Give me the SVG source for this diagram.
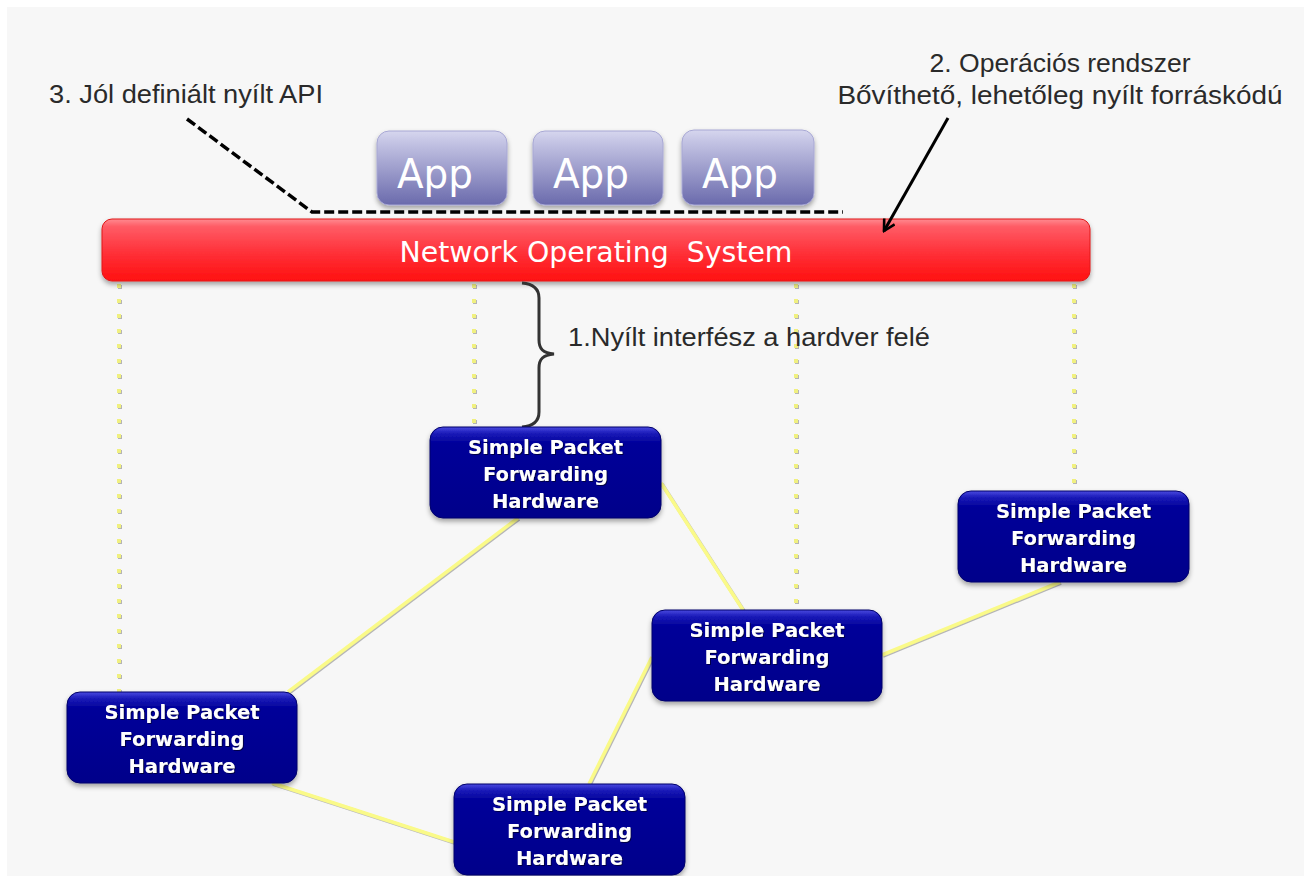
<svg xmlns="http://www.w3.org/2000/svg" width="1304" height="876" viewBox="0 0 1304 876">
  <defs>
    <linearGradient id="gNos" x1="0" y1="0" x2="0" y2="1">
      <stop offset="0" stop-color="#ff8a90"/>
      <stop offset="0.12" stop-color="#ff5c66"/>
      <stop offset="0.55" stop-color="#ff3038"/>
      <stop offset="1" stop-color="#ff1010"/>
    </linearGradient>
    <linearGradient id="gApp" x1="0" y1="0" x2="0" y2="1">
      <stop offset="0" stop-color="#d6d6ee"/>
      <stop offset="0.15" stop-color="#c4c4e4"/>
      <stop offset="1" stop-color="#6a6aac"/>
    </linearGradient>
    <linearGradient id="gHw" x1="0" y1="0" x2="0" y2="1">
      <stop offset="0" stop-color="#4a4ae0"/>
      <stop offset="0.07" stop-color="#1a1ab8"/>
      <stop offset="0.18" stop-color="#000099"/>
      <stop offset="1" stop-color="#00008a"/>
    </linearGradient>
    <filter id="shadow" x="-10%" y="-20%" width="120%" height="150%">
      <feDropShadow dx="0" dy="3" stdDeviation="2.5" flood-color="#000" flood-opacity="0.35"/>
    </filter>
    <!-- user-space region so straight vertical lines still render -->
    <filter id="lineShadow" filterUnits="userSpaceOnUse" x="0" y="0" width="1304" height="876">
      <feDropShadow dx="1" dy="1" stdDeviation="0.6" flood-color="#999" flood-opacity="0.7"/>
    </filter>
    <filter id="textShadow" x="-5%" y="-20%" width="110%" height="150%">
      <feDropShadow dx="1" dy="1" stdDeviation="0.5" flood-color="#000033" flood-opacity="0.8"/>
    </filter>
    <marker id="arrowHead" viewBox="0 0 14 14" refX="12" refY="7" markerWidth="14" markerHeight="14" markerUnits="userSpaceOnUse" orient="auto">
      <path d="M1,1 L12,7 L1,13" fill="none" stroke="#000" stroke-width="2.6" stroke-linejoin="miter"/>
    </marker>
  </defs>
  <style>
    .label { font-family: "Liberation Sans", "DejaVu Sans", sans-serif; fill: #2a2a2a; font-size: 26px; }
    .hw rect { fill: url(#gHw); stroke: #00006a; stroke-width: 1; filter: url(#shadow); }
    .hw text { font-family: "DejaVu Sans", "Liberation Sans", sans-serif; font-weight: bold; font-size: 19.5px; fill: #ffffff; text-anchor: middle; filter: url(#textShadow); }
    .app rect { fill: url(#gApp); stroke: #a8a8d4; stroke-width: 1; filter: url(#shadow); }
    .app text { font-family: "DejaVu Sans", "Liberation Sans", sans-serif; font-size: 40px; fill: #ffffff; text-anchor: middle; }
    .link { stroke: #fafa88; stroke-width: 3.6; fill: none; filter: url(#lineShadow); }
    .ctrl { stroke: #f0f080; stroke-width: 4; stroke-dasharray: 4 11; fill: none; filter: url(#lineShadow); }
  </style>

  <!-- canvas -->
  <rect x="0" y="0" width="1304" height="876" fill="#ffffff"/>
  <rect x="7" y="7" width="1297" height="869" fill="#f7f7f7"/>

  <!-- connectors -->
  <g id="connectors">
    <line class="ctrl" x1="119" y1="284" x2="119" y2="692"/>
    <line class="ctrl" x1="474" y1="284" x2="474" y2="427"/>
    <line class="ctrl" x1="796" y1="284" x2="796" y2="610"/>
    <line class="ctrl" x1="1074" y1="284" x2="1074" y2="491"/>
    <line class="link" x1="518" y1="518" x2="288" y2="692"/>
    <line class="link" x1="661" y1="483" x2="743" y2="610"/>
    <line class="link" x1="882" y1="655" x2="1060" y2="582"/>
    <line class="link" x1="652" y1="657" x2="589" y2="784"/>
    <line class="link" x1="272" y1="783" x2="454" y2="842"/>
  </g>

  <!-- network operating system bar -->
  <g id="nos">
    <rect x="102" y="219" width="988" height="62" rx="10" ry="10" fill="url(#gNos)" stroke="#e01818" stroke-width="1" filter="url(#shadow)"/>
    <text x="596" y="262" font-family="DejaVu Sans, Liberation Sans, sans-serif" font-size="29" fill="#ffffff" text-anchor="middle" textLength="393" lengthAdjust="spacingAndGlyphs" xml:space="preserve">Network Operating  System</text>
  </g>

  <!-- applications -->
  <g id="app1" class="app">
    <rect x="377" y="131" width="130" height="74" rx="12" ry="12"/>
    <text x="435" y="188" textLength="76" lengthAdjust="spacingAndGlyphs">App</text>
  </g>
  <g id="app2" class="app">
    <rect x="533" y="131" width="130" height="74" rx="12" ry="12"/>
    <text x="591" y="188" textLength="76" lengthAdjust="spacingAndGlyphs">App</text>
  </g>
  <g id="app3" class="app">
    <rect x="682" y="130" width="132" height="75" rx="12" ry="12"/>
    <text x="740" y="188" textLength="76" lengthAdjust="spacingAndGlyphs">App</text>
  </g>

  <!-- API boundary (dashed) -->
  <g id="api-line">
    <polyline points="187,119 312,212 843,212" fill="none" stroke="#000" stroke-width="3.5" stroke-dasharray="10 4"/>
  </g>

  <!-- OS pointer arrow -->
  <g id="os-arrow">
    <line x1="948" y1="118" x2="884" y2="231" stroke="#000" stroke-width="3" marker-end="url(#arrowHead)"/>
  </g>

  <!-- hardware interface brace -->
  <g id="brace">
    <path d="M522,283 C534,284 539,289 539,298 L539,340 C539,349 543,353 554,354 C543,355 539,359 539,368 L539,412 C539,421 534,426 522,427" fill="none" stroke="#333333" stroke-width="3"/>
  </g>

  <!-- labels -->
  <g id="labels">
    <text class="label" x="49" y="103" textLength="274" lengthAdjust="spacingAndGlyphs">3. Jól definiált nyílt API</text>
    <text class="label" x="1060" y="72" text-anchor="middle" textLength="261" lengthAdjust="spacingAndGlyphs">2. Operációs rendszer</text>
    <text class="label" x="1060" y="104" text-anchor="middle" textLength="445" lengthAdjust="spacingAndGlyphs">Bővíthető, lehetőleg nyílt forráskódú</text>
    <text class="label" x="568" y="346" textLength="362" lengthAdjust="spacingAndGlyphs">1.Nyílt interfész a hardver felé</text>
  </g>

  <!-- forwarding hardware nodes -->
  <g id="hw1" class="hw">
    <rect x="430" y="427" width="231" height="91" rx="13" ry="13"/>
    <text x="545.5" y="454">Simple Packet</text>
    <text x="545.5" y="481">Forwarding</text>
    <text x="545.5" y="508">Hardware</text>
  </g>
  <g id="hw2" class="hw">
    <rect x="958" y="491" width="231" height="91" rx="13" ry="13"/>
    <text x="1073.5" y="518">Simple Packet</text>
    <text x="1073.5" y="545">Forwarding</text>
    <text x="1073.5" y="572">Hardware</text>
  </g>
  <g id="hw3" class="hw">
    <rect x="652" y="610" width="230" height="91" rx="13" ry="13"/>
    <text x="767" y="637">Simple Packet</text>
    <text x="767" y="664">Forwarding</text>
    <text x="767" y="691">Hardware</text>
  </g>
  <g id="hw4" class="hw">
    <rect x="67" y="692" width="230" height="91" rx="13" ry="13"/>
    <text x="182" y="719">Simple Packet</text>
    <text x="182" y="746">Forwarding</text>
    <text x="182" y="773">Hardware</text>
  </g>
  <g id="hw5" class="hw">
    <rect x="454" y="784" width="231" height="91" rx="13" ry="13"/>
    <text x="569.5" y="811">Simple Packet</text>
    <text x="569.5" y="838">Forwarding</text>
    <text x="569.5" y="865">Hardware</text>
  </g>
</svg>
